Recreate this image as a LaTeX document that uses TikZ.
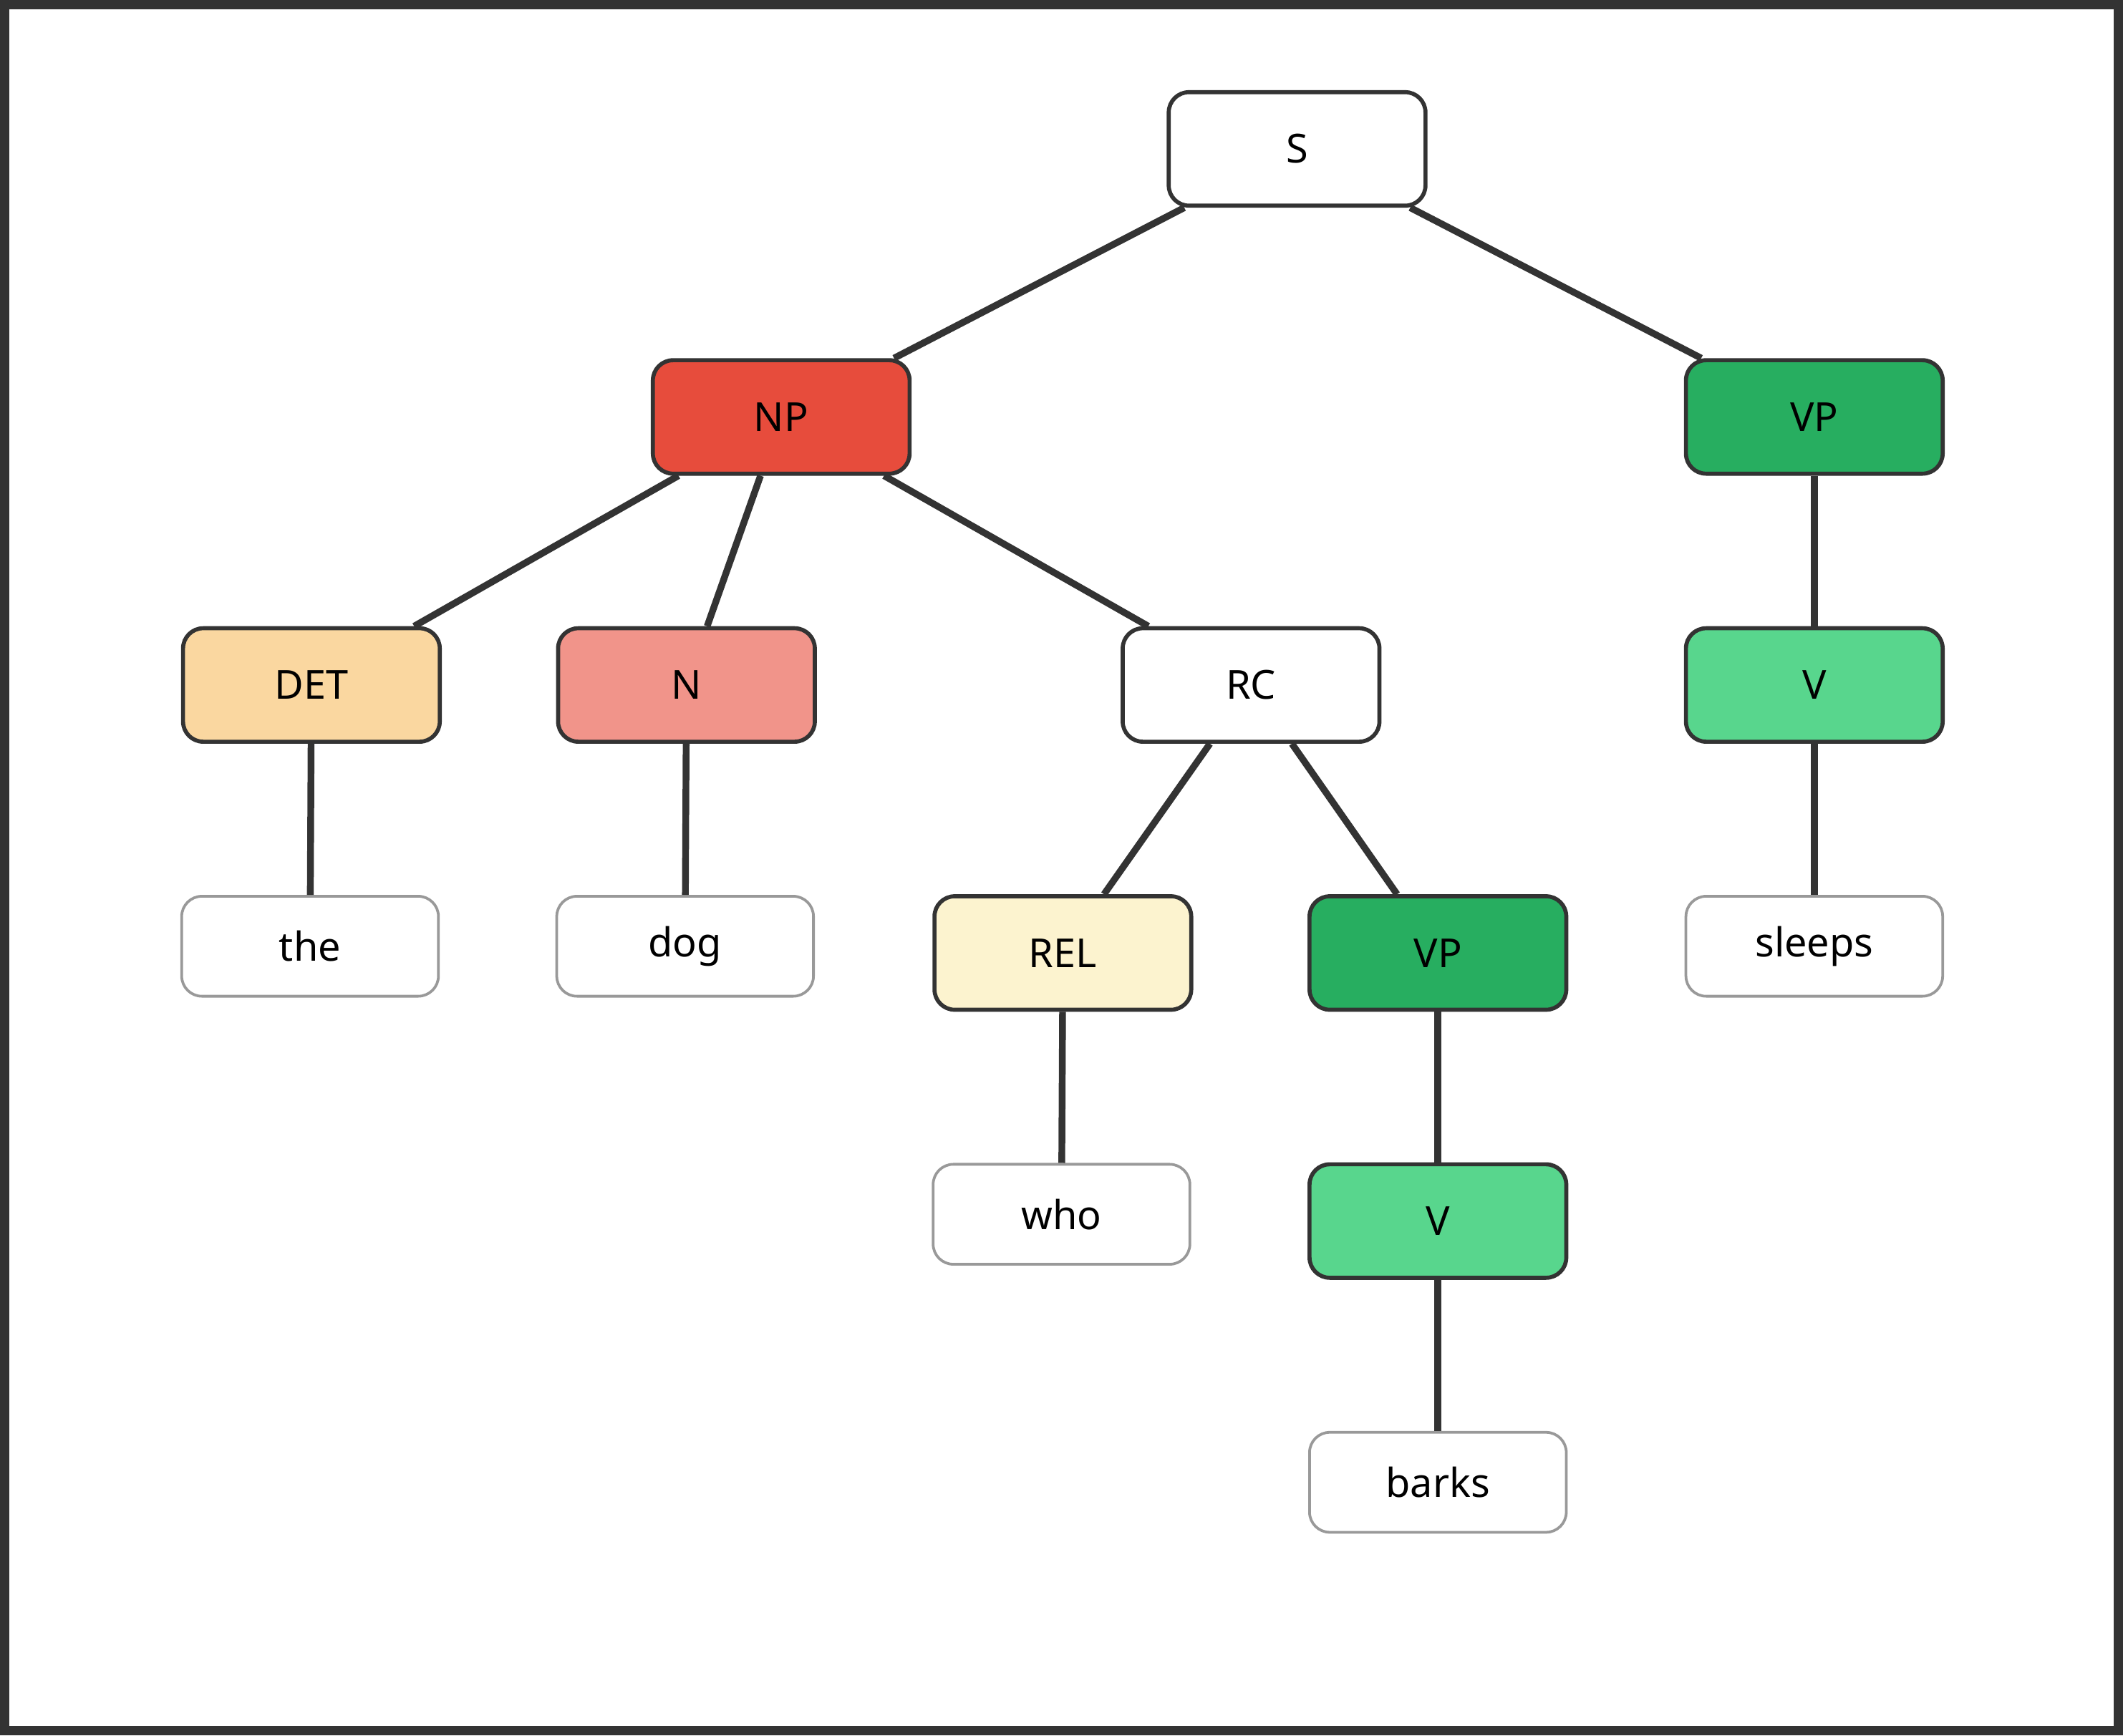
\documentclass[tikz,border=0pt]{standalone}
\usepackage{fontspec}
\setmainfont{Noto Sans}
\begin{document}
\begin{tikzpicture}[x=0.05cm,y=-0.05cm,
  cat/.style={draw=c3,line width=3*1.42pt,rounded corners=15*1.42pt,minimum width=190*1.42pt,minimum height=84*1.42pt,font=\fontsize{42}{48}\selectfont\bfseries,inner sep=0pt},
  leaf/.style={draw=c9,fill=white,line width=2*1.42pt,rounded corners=15*1.42pt,minimum width=190*1.42pt,minimum height=74*1.42pt,font=\fontsize{42}{48}\selectfont,inner sep=0pt},
  edge/.style={draw=c3,line width=5*1.42pt}]
\definecolor{c3}{HTML}{333333}
\definecolor{c9}{HTML}{999999}
\definecolor{np}{HTML}{E74C3C}
\definecolor{vp}{HTML}{27AE60}
\definecolor{vv}{HTML}{58D68D}
\definecolor{det}{HTML}{FAD7A0}
\definecolor{nn}{HTML}{F1948A}
\definecolor{rel}{HTML}{FCF3CF}
\draw[c3,fill=white,line width=7*1.42pt] (3.5,3.5) rectangle (1564.5,1278.5);
\useasboundingbox (0,0) rectangle (1568,1282);
\node[cat,fill=white] (S) at (958,110) {S};
\node[cat,fill=np] (NP) at (577,308) {NP};
\node[cat,fill=vp] (VP) at (1340,308) {VP};
\node[cat,fill=det] (DET) at (230,506) {DET};
\node[cat,fill=nn] (N) at (507,506) {N};
\node[cat,fill=white] (RC) at (924,506) {RC};
\node[cat,fill=vv] (V) at (1340,506) {V};
\node[leaf] (the) at (229,699) {the};
\node[leaf] (dog) at (506,699) {dog};
\node[cat,fill=rel] (REL) at (785,704) {REL};
\node[cat,fill=vp] (VP2) at (1062,704) {VP};
\node[leaf] (sleeps) at (1340,699) {sleeps};
\node[leaf] (who) at (784,897) {who};
\node[cat,fill=vv] (V2) at (1062,902) {V};
\node[leaf] (barks) at (1062,1095) {barks};
\draw[edge] (S) -- (NP);
\draw[edge] (S) -- (VP);
\draw[edge] (NP) -- (DET);
\draw[edge] (NP) -- (N);
\draw[edge] (NP) -- (RC);
\draw[edge] (VP) -- (V);
\draw[edge] (DET) -- (the);
\draw[edge] (N) -- (dog);
\draw[edge] (RC) -- (REL);
\draw[edge] (RC) -- (VP2);
\draw[edge] (V) -- (sleeps);
\draw[edge] (REL) -- (who);
\draw[edge] (VP2) -- (V2);
\draw[edge] (V2) -- (barks);
\end{tikzpicture}
\end{document}
